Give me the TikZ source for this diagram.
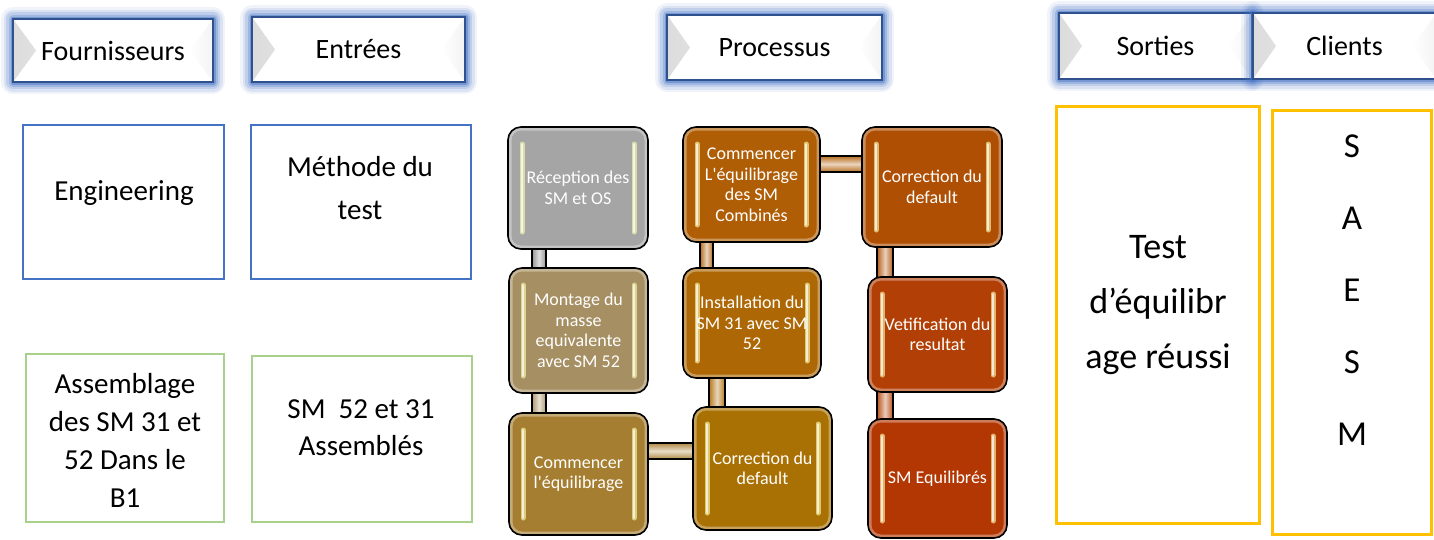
\documentclass[tikz,border=0pt]{standalone}
\usepackage{fontspec}
\newfontfamily\carl{Carlito}
\pgfdeclarelayer{bg0}
\pgfdeclarelayer{background}
\pgfsetlayers{bg0,background,main}

\definecolor{glowblue}{HTML}{4472C4}
\definecolor{hdrline}{HTML}{2F528F}
\definecolor{boxblue}{HTML}{4472C4}
\definecolor{boxgreen}{HTML}{A9D18E}
\definecolor{boxgold}{HTML}{FFC000}
% process step colours
\definecolor{cRec}{HTML}{A5A5A5}
\definecolor{cMon}{HTML}{A68F62}
\definecolor{cCeq}{HTML}{A67E31}
\definecolor{cCdb}{HTML}{A97104}
\definecolor{cIns}{HTML}{AD6805}
\definecolor{cCc}{HTML}{B05E06}
\definecolor{cCdt}{HTML}{AE4F04}
\definecolor{cVet}{HTML}{B24006}
\definecolor{cSme}{HTML}{B33703}
% bevel greys
\definecolor{bevdark}{HTML}{DCDCDC}
\definecolor{bevlight}{HTML}{F3F3F3}

\tikzset{
  glow/.style={
    preaction={draw=glowblue, draw opacity=.08, line width=24pt, line join=round},
    preaction={draw=glowblue, draw opacity=.12, line width=19pt, line join=round},
    preaction={draw=glowblue, draw opacity=.18, line width=14pt, line join=round},
    preaction={draw=glowblue, draw opacity=.26, line width=9pt, line join=round},
    preaction={draw=glowblue, draw opacity=.45, line width=5pt, line join=round}},
  bevel/.style={path picture={
    \shade[left color=bevdark, right color=white, middle color=bevdark!50!white]
      (path picture bounding box.north west) -- ([xshift=23pt]path picture bounding box.west)
      -- (path picture bounding box.south west) -- cycle;
    \shade[left color=white, right color=bevlight, middle color=bevlight!50!white]
      (path picture bounding box.north east) -- ([xshift=-23pt]path picture bounding box.east)
      -- (path picture bounding box.south east) -- cycle;}},
  hdr/.style={glow, draw=hdrline, line width=2pt, fill=white,
    bevel, font=\carl\fontsize{28}{34}\selectfont, inner sep=0pt},
  cbox/.style={draw=#1, line width=2.5pt, inner sep=0pt},
  ctext/.style={font=\carl\fontsize{29}{43}\selectfont, align=center, inner sep=0pt},
  blk/.style={rounded corners=13pt, draw=black, line width=1.6pt, fill=#1, text=white,
    font=\carl\fontsize{18}{20.5}\selectfont, align=center, inner sep=0pt,
    path picture={
      \draw[white, opacity=.35, line width=3pt, rounded corners=11pt]
        ([shift={(2pt,-2pt)}]path picture bounding box.north west) rectangle
        ([shift={(-2pt,2pt)}]path picture bounding box.south east);
      \draw[#1!30!yellow!40!white, opacity=.7, line width=5pt, line cap=round]
        ([shift={(14pt,-17pt)}]path picture bounding box.north west) --
        ([shift={(14pt,17pt)}]path picture bounding box.south west);
      \draw[white, opacity=.7, line width=1.5pt, line cap=round]
        ([shift={(14pt,-17pt)}]path picture bounding box.north west) --
        ([shift={(14pt,17pt)}]path picture bounding box.south west);
      \draw[#1!30!yellow!40!white, opacity=.7, line width=5pt, line cap=round]
        ([shift={(-14pt,-17pt)}]path picture bounding box.north east) --
        ([shift={(-14pt,17pt)}]path picture bounding box.south east);
      \draw[white, opacity=.7, line width=1.5pt, line cap=round]
        ([shift={(-14pt,-17pt)}]path picture bounding box.north east) --
        ([shift={(-14pt,17pt)}]path picture bounding box.south east);}},
  vbar/.style={draw=black, line width=1.4pt, left color=#1, right color=#1, middle color=#1!30!white},
  hbar/.style={draw=black, line width=1.4pt, top color=#1, bottom color=#1, middle color=#1!30!white}
}

\begin{document}
\begin{tikzpicture}[x=1pt, y=-1pt]
\useasboundingbox (0,0) rectangle (1434,539);
\begin{pgfonlayer}{bg0}
  \fill[white] (0,0) rectangle (1434,539);
\end{pgfonlayer}

% column headings
\node[hdr, minimum width=200pt, minimum height=63pt] (fou) at (113,50.5) {Fournisseurs};
\node[hdr, minimum width=213pt, minimum height=65pt] (ent) at (358.5,49.5) {Entrées};
\node[hdr, minimum width=215pt, minimum height=65pt] (pro) at (774.5,47.5) {Processus};
\node[hdr, minimum width=193pt, minimum height=66pt] (sor) at (1155.5,46) {Sorties};
\node[hdr, minimum width=183pt, minimum height=66pt] (cli) at (1344.5,46) {Clients};

% suppliers and inputs
\node[cbox=boxblue, minimum width=201pt, minimum height=154pt] (engbox) at (123.5,202) {};
\node[ctext, anchor=base] (engtxt) at (124,200) {Engineering};
\node[cbox=boxblue, minimum width=220pt, minimum height=154pt] (metbox) at (361,202) {};
\node[ctext, anchor=north] (mettxt) at (360,156) {Méthode du\\test};
\node[cbox=boxgreen, minimum width=198pt, minimum height=168pt] (assbox) at (125,438) {};
\node[ctext, anchor=north, font=\carl\fontsize{29}{38}\selectfont] (asstxt) at (125,373)
  {Assemblage\\des SM 31 et\\52 Dans le\\B1};
\node[cbox=boxgreen, minimum width=220pt, minimum height=166pt] (smbox) at (362,439) {};
\node[ctext, anchor=north, font=\carl\fontsize{29}{37}\selectfont] (smtxt) at (361,399)
  {SM~~52 et 31\\Assemblés};

% outputs and customers
\node[cbox=boxgold, line width=3pt, minimum width=203pt, minimum height=417pt] (outbox) at (1157.5,314.5) {};
\node[ctext, anchor=north, font=\carl\fontsize{36}{55}\selectfont] (outtxt) at (1158,235)
  {Test\\d’équilibr\\age réussi};
\node[cbox=boxgold, line width=3pt, minimum width=159pt, minimum height=424pt] (clibox) at (1351.5,322) {};
\node[ctext, anchor=north, font=\carl\fontsize{35}{72}\selectfont] (clitxt) at (1352,135)
  {S\\A\\E\\S\\M};

% process steps
\node[blk=cRec, minimum width=140pt, minimum height=122pt] (rec) at (578,188) {Réception des\\SM et OS};
\node[blk=cCc,  minimum width=137pt, minimum height=115pt] (cc)  at (751.5,184.5) {Commencer\\L'équilibrage\\des SM\\Combinés};
\node[blk=cCdt, minimum width=140pt, minimum height=120pt] (cdt) at (932,187) {Correction du\\default};
\node[blk=cMon, minimum width=139pt, minimum height=125pt] (mon) at (578.5,330.5) {Montage du\\masse\\equivalente\\avec SM 52};
\node[blk=cIns, minimum width=138pt, minimum height=110pt] (ins) at (752,323) {Installation du\\SM 31 avec SM\\52};
\node[blk=cVet, minimum width=139pt, minimum height=115pt] (vet) at (937.5,334.5) {Vetification du\\resultat};
\node[blk=cCeq, minimum width=139pt, minimum height=122pt] (ceq) at (578.5,474) {Commencer\\l'équilibrage};
\node[blk=cCdb, minimum width=139pt, minimum height=123pt] (cdb) at (762.5,468.5) {Correction du\\default};
\node[blk=cSme, minimum width=139pt, minimum height=119pt] (sme) at (937.5,478.5) {SM Equilibrés};

% connecting bars, behind the steps
\begin{pgfonlayer}{background}
  \draw[vbar=cRec!90!black] ([xshift=-46pt,yshift=4pt]rec.south) rectangle ([xshift=-32.5pt,yshift=-4pt]mon.north);
  \draw[vbar=cMon!90!white] ([xshift=-46.5pt,yshift=4pt]mon.south) rectangle ([xshift=-32.5pt,yshift=-4pt]ceq.north);
  \draw[hbar=cCeq!90!white] ([xshift=-4pt,yshift=31pt]ceq.east) rectangle ([xshift=4pt,yshift=9.5pt]cdb.west);
  \draw[vbar=cIns!90!white] ([xshift=-43pt,yshift=4pt]ins.south) rectangle ([xshift=-37.5pt,yshift=-4pt]cdb.north);
  \draw[vbar=cCc!90!white] ([xshift=-51.5pt,yshift=4pt]cc.south) rectangle ([xshift=-39pt,yshift=-4pt]ins.north);
  \draw[hbar=cCc!90!white] ([xshift=-4pt,yshift=28.5pt]cc.east) rectangle ([xshift=4pt,yshift=15pt]cdt.west);
  \draw[vbar=cCdt!90!white] ([xshift=-55pt,yshift=4pt]cdt.south) rectangle ([xshift=-44.5pt,yshift=-4pt]vet.north);
  \draw[vbar=cVet!90!white] ([xshift=-60.5pt,yshift=4pt]vet.south) rectangle ([xshift=-44.5pt,yshift=-4pt]sme.north);
\end{pgfonlayer}
\end{tikzpicture}
\end{document}
